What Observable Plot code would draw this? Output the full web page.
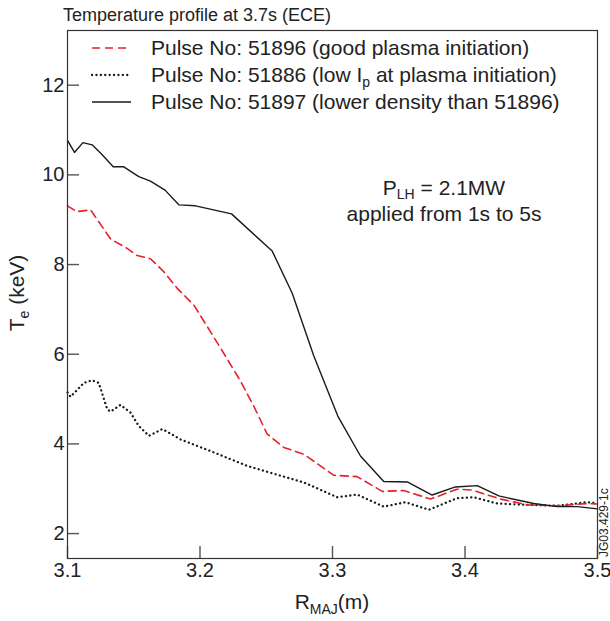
<!DOCTYPE html>
<html>
<head>
<meta charset="utf-8">
<script src="https://cdn.jsdelivr.net/npm/d3@7"></script>
<script src="https://cdn.jsdelivr.net/npm/@observablehq/plot@0.6"></script>
<style>
  html, body { margin: 0; padding: 0; background: #fff; }
  svg text { font-family: "Liberation Sans", Arial, Helvetica, sans-serif; }
</style>
</head>
<body>
<div id="chart"></div>
<script>
// ---- data ----
const xTicks = [3.1, 3.2, 3.3, 3.4, 3.5];
const yTicks = [2, 4, 6, 8, 10, 12];

// Pulse 51896 (good plasma initiation) — red dashed
const r51896 = [3.1, 3.107, 3.1174, 3.1325, 3.145, 3.1526, 3.1626, 3.1727, 3.1828, 3.1953, 3.2155, 3.2306, 3.2406, 3.2507, 3.2633, 3.2783, 3.301, 3.3186, 3.3375, 3.3538, 3.374, 3.3941, 3.4054, 3.4268, 3.447, 3.4696, 3.4922, 3.5];
const t51896 = [9.31, 9.18, 9.22, 8.57, 8.36, 8.2, 8.13, 7.84, 7.47, 7.10, 6.14, 5.4, 4.84, 4.22, 3.92, 3.77, 3.30, 3.27, 2.94, 2.96, 2.77, 2.99, 2.97, 2.77, 2.64, 2.62, 2.67, 2.66];

// Pulse 51886 (low Ip at plasma initiation) — black dotted
const r51886 = [3.1, 3.1023, 3.1123, 3.1186, 3.1236, 3.13, 3.1325, 3.14, 3.1475, 3.1538, 3.1614, 3.1715, 3.1802, 3.1853, 3.2104, 3.2356, 3.2608, 3.2783, 3.2922, 3.3035, 3.3186, 3.3387, 3.3551, 3.3727, 3.3941, 3.4066, 3.4243, 3.447, 3.4696, 3.4922, 3.5];
const t51886 = [5.15, 5.05, 5.36, 5.42, 5.36, 4.77, 4.72, 4.87, 4.7, 4.4, 4.18, 4.33, 4.19, 4.1, 3.81, 3.51, 3.29, 3.14, 2.96, 2.81, 2.87, 2.6, 2.7, 2.53, 2.79, 2.81, 2.67, 2.64, 2.62, 2.7, 2.67];

// Pulse 51897 (lower density than 51896) — black solid
const r51897 = [3.1, 3.1053, 3.1116, 3.1186, 3.1262, 3.1345, 3.1425, 3.1538, 3.1626, 3.1736, 3.1842, 3.1966, 3.2238, 3.2545, 3.2696, 3.2859, 3.304, 3.3211, 3.3387, 3.3568, 3.3752, 3.3928, 3.4092, 3.4255, 3.4519, 3.4696, 3.4847, 3.5];
const t51897 = [10.77, 10.5, 10.72, 10.67, 10.45, 10.18, 10.18, 9.96, 9.86, 9.66, 9.33, 9.31, 9.13, 8.30, 7.36, 5.96, 4.62, 3.73, 3.16, 3.15, 2.86, 3.04, 3.07, 2.84, 2.67, 2.6, 2.6, 2.55];

const legendLabels = [
  ["Pulse No: 51896 (good plasma initiation)"],
  ["Pulse No: 51886 (low I", "p", " at plasma initiation)"],
  ["Pulse No: 51897 (lower density than 51896)"]
];

const toRows = (xs, ys) => xs.map((x, i) => ({x, y: ys[i]}));
const s51896 = toRows(r51896, t51896);
const s51886 = toRows(r51886, t51886);
const s51897 = toRows(r51897, t51897);

// ---- layout ----
const W = 610, H = 621;
const mL = 67, mR = 13, mT = 30, mB = 63;
const frameW = W - mL - mR, frameH = H - mT - mB;
const RED = "#e8202a";
const FONT = "20px";
const TFONT = "21px";

const styles = {
  s51896: {stroke: RED, strokeWidth: 1.6, strokeDasharray: "8,5"},
  s51886: {stroke: "#1a1a1a", strokeWidth: 2.3, strokeDasharray: "0.1,4.3", strokeLinecap: "round"},
  s51897: {stroke: "#1a1a1a", strokeWidth: 1.4}
};

const plot = Plot.plot({
  width: W, height: H,
  marginLeft: mL, marginRight: mR, marginTop: mT, marginBottom: mB,
  x: {domain: [3.1, 3.5], label: null},
  y: {domain: [1.444, 13.22], label: null},
  style: {fontSize: FONT, fontFamily: '"Liberation Sans", Arial, Helvetica, sans-serif', color: "#222", background: "#fff"},
  marks: [
    Plot.tickX(xTicks, {x: d => d, stroke: "#555", strokeWidth: 1.4, insetTop: frameH - 12}),
    Plot.tickY(yTicks, {y: d => d, stroke: "#555", strokeWidth: 1.4, insetRight: frameW - 12}),
    Plot.axisX({ticks: xTicks, tickSize: 0, tickPadding: 4, tickFormat: d => d.toFixed(1), fontSize: FONT}),
    Plot.axisY({ticks: yTicks, tickSize: 0, tickPadding: 3, tickFormat: d => String(d), fontSize: FONT}),
    Plot.line(s51886, {x: "x", y: "y", ...styles.s51886}),
    Plot.line(s51896, {x: "x", y: "y", ...styles.s51896}),
    Plot.line(s51897, {x: "x", y: "y", ...styles.s51897}),
    Plot.frame({stroke: "#333", strokeWidth: 1.2})
  ]
});

document.getElementById("chart").appendChild(plot);
const svg = d3.select(plot);
const addText = (attrs) => {
  const t = svg.append("text").attr("text-anchor", "start").attr("font-size", TFONT).attr("fill", "#222");
  Object.entries(attrs).forEach(([k, v]) => t.attr(k, v));
  return t;
};

// title
addText({x: 63, y: 21, "font-size": "18px"}).text("Temperature profile at 3.7s (ECE)");

// legend
const legendStyles = [styles.s51896, styles.s51886, styles.s51897];
const rowsY = [48, 75, 102];
legendLabels.forEach((parts, i) => {
  const st = legendStyles[i];
  svg.append("line").attr("x1", 92).attr("x2", 131).attr("y1", rowsY[i]).attr("y2", rowsY[i])
    .attr("stroke", st.stroke).attr("stroke-width", st.strokeWidth)
    .attr("stroke-dasharray", st.strokeDasharray || null)
    .attr("stroke-linecap", st.strokeLinecap || null);
  const t = addText({x: 151, y: rowsY[i] + 7});
  parts.forEach((p, j) => {
    if (j === 1) t.append("tspan").attr("font-size", "14px").attr("dy", 5).text(p);
    else if (j === 2) t.append("tspan").attr("dy", -5).text(p);
    else t.append("tspan").text(p);
  });
});

// annotation
const ann1 = addText({x: 444, y: 195, "text-anchor": "middle"});
ann1.append("tspan").text("P");
ann1.append("tspan").attr("font-size", "14px").attr("dy", 4).text("LH");
ann1.append("tspan").attr("dy", -4).text(" = 2.1MW");
addText({x: 444, y: 221, "text-anchor": "middle"}).text("applied from 1s to 5s");

// axis labels
const yl = addText({transform: "translate(24,293) rotate(-90)", "text-anchor": "middle"});
yl.append("tspan").text("T");
yl.append("tspan").attr("font-size", "14px").attr("dy", 5).text("e");
yl.append("tspan").attr("dy", -5).text(" (keV)");

const xl = addText({x: 332, y: 609, "text-anchor": "middle"});
xl.append("tspan").text("R");
xl.append("tspan").attr("font-size", "14px").attr("dy", 5).text("MAJ");
xl.append("tspan").attr("dy", -5).text("(m)");

// figure id
addText({transform: "translate(608,557) rotate(-90)", "font-size": "12px"}).text("JG03.429-1c");
</script>
</body>
</html>
